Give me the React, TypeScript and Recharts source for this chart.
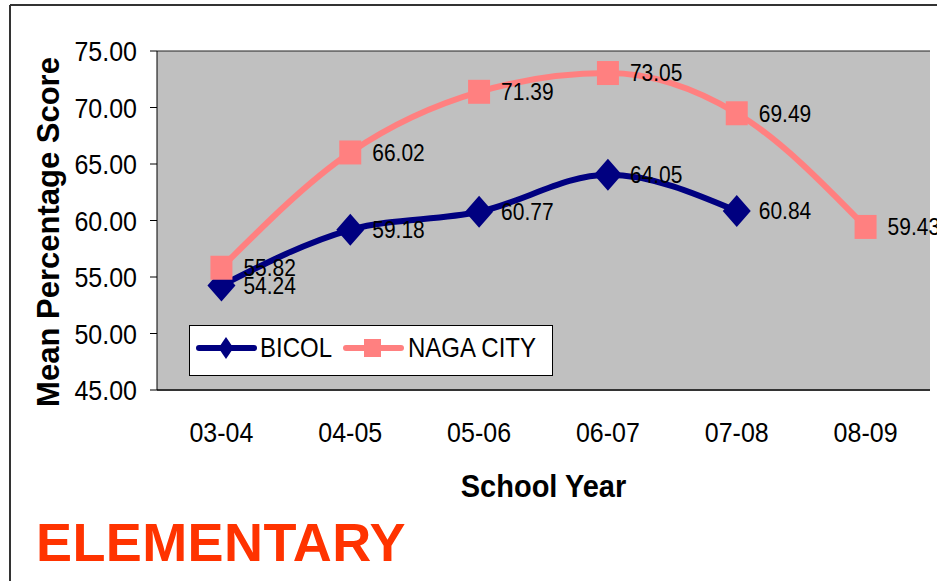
import React from 'react';
import { LineChart, Line, XAxis, YAxis, CartesianGrid, LabelList } from 'recharts';

const categories = ['03-04', '04-05', '05-06', '06-07', '07-08', '08-09'];
const bicolValues: (number | null)[] = [54.24, 59.18, 60.77, 64.05, 60.84, null];
const nagaValues: number[] = [55.82, 66.02, 71.39, 73.05, 69.49, 59.43];
const yTicks = [45, 50, 55, 60, 65, 70, 75];
const boundaryTicks = [0, 1, 2, 3, 4, 5, 6];

const data = categories.map((c, i) => ({ year: c, idx: i + 0.5, bicol: bicolValues[i], naga: nagaValues[i] }));

const FONT = '"Liberation Sans", Arial, sans-serif';
const NAVY = '#000080';
const PINK = '#FF8080';

const stretch = (y: number, s: number) => `translate(0 ${y}) scale(1 ${s}) translate(0 ${-y})`;

const YTick = (props: any) => {
  const { x, y, payload } = props;
  return (
    <text x={x} y={y} dy="0.36em" textAnchor="end" fontSize={25} fontFamily={FONT} fill="#000" transform={stretch(y, 1.12)}>
      {Number(payload.value).toFixed(2)}
    </text>
  );
};

const XTick = (props: any) => {
  const { x, y, payload } = props;
  return (
    <text x={x} y={y} dy="0.36em" textAnchor="middle" fontSize={25} fontFamily={FONT} fill="#000" transform={stretch(y, 1.12)}>
      {payload.value}
    </text>
  );
};

const EmptyTick = () => <g />;

const Diamond = (props: any) => {
  const { cx, cy, index } = props;
  if (cx == null || cy == null || props.value == null) return <g key={`d${index}`} />;
  return <path key={`d${index}`} d={`M${cx},${cy - 16} L${cx + 14},${cy} L${cx},${cy + 16} L${cx - 14},${cy} Z`} fill={NAVY} />;
};

const Square = (props: any) => {
  const { cx, cy, index } = props;
  if (cx == null || cy == null) return <g key={`s${index}`} />;
  return <rect key={`s${index}`} x={cx - 11} y={cy - 12} width={22} height={24} fill={PINK} />;
};

const ValueLabel = (props: any) => {
  const { x, y, value } = props;
  if (value == null || x == null || y == null) return null;
  return (
    <text x={x + 22} y={y} dy="0.36em" textAnchor="start" fontSize={21} fontFamily={FONT} fill="#000" transform={stretch(y, 1.12)}>
      {Number(value).toFixed(2)}
    </text>
  );
};

export default function App() {
  return (
    <div style={{ position: 'absolute', left: 0, top: 0, width: 937, height: 581, background: '#fff', overflow: 'hidden' }}>
      <LineChart width={937} height={581} data={data} margin={{ top: 51, right: 7, left: 0, bottom: 0 }}>
        <CartesianGrid vertical={false} stroke="#222" fill="#C0C0C0" fillOpacity={1} />
        <XAxis
          xAxisId="b"
          dataKey="idx"
          type="number"
          domain={[0, 6]}
          ticks={boundaryTicks}
          height={0}
          axisLine={false}
          tickLine={{ stroke: '#333', strokeWidth: 1 }}
          tickSize={8}
          tick={EmptyTick}
          interval={0}
        />
        <XAxis
          xAxisId="cat"
          dataKey="year"
          scale="band"
          height={191}
          axisLine={{ stroke: '#333', strokeWidth: 2 }}
          tickLine={false}
          tickSize={0}
          tickMargin={42}
          tick={XTick}
          interval={0}
        />
        <XAxis xAxisId="top" dataKey="year" orientation="top" height={0} axisLine={{ stroke: '#808080', strokeWidth: 2 }} tickLine={false} tick={false} />
        <YAxis
          yAxisId="y"
          domain={[45, 75]}
          ticks={yTicks}
          width={157}
          axisLine={{ stroke: '#000', strokeWidth: 1 }}
          tickLine={{ stroke: '#000' }}
          tickSize={7}
          tickMargin={13}
          tick={YTick}
          interval={0}
        />
        <YAxis yAxisId="r" orientation="right" width={0} axisLine={{ stroke: '#808080', strokeWidth: 2 }} tickLine={false} tick={false} />
        <Line
          xAxisId="cat"
          yAxisId="y"
          type="monotone"
          dataKey="bicol"
          stroke={NAVY}
          strokeWidth={6}
          dot={Diamond}
          activeDot={false}
          connectNulls={false}
          isAnimationActive={false}
        >
          <LabelList dataKey="bicol" content={ValueLabel} />
        </Line>
        <Line
          xAxisId="cat"
          yAxisId="y"
          type="monotone"
          dataKey="naga"
          stroke={PINK}
          strokeWidth={6}
          dot={Square}
          activeDot={false}
          isAnimationActive={false}
        >
          <LabelList dataKey="naga" content={ValueLabel} />
        </Line>
      </LineChart>
      <svg width={937} height={581} style={{ position: 'absolute', left: 0, top: 0, pointerEvents: 'none' }}>
        <line x1={10} y1={5} x2={10} y2={581} stroke="#333" strokeWidth={2} />
        <line x1={10} y1={5} x2={937} y2={5} stroke="#333" strokeWidth={2} />
        <text transform="translate(48 232) rotate(-90)" textAnchor="middle" dy="0.36em" fontSize={31} fontWeight="bold" fontFamily={FONT} fill="#000">
          Mean Percentage Score
        </text>
        <text x={543.5} y={497} textAnchor="middle" fontSize={29} fontWeight="bold" fontFamily={FONT} fill="#000" transform={stretch(497, 1.07)}>
          School Year
        </text>
        <text x={36} y={561} fontSize={54} fontWeight="bold" fontFamily={FONT} fill="#FF3300" letterSpacing={0.4}>
          ELEMENTARY
        </text>
        <g>
          <rect x={189.5} y={325.5} width={363} height={50} fill="#fff" stroke="#000" strokeWidth={1} />
          <line x1={199} y1={348} x2={254} y2={348} stroke={NAVY} strokeWidth={6} strokeLinecap="round" />
          <path d="M226,337 L233.5,348 L226,359 L218.5,348 Z" fill={NAVY} />
          <text x={260} y={357} fontSize={24} fontFamily={FONT} fill="#000" transform={stretch(357, 1.15)}>BICOL</text>
          <line x1={346} y1={348} x2={401} y2={348} stroke={PINK} strokeWidth={6} strokeLinecap="round" />
          <rect x={364} y={339} width={17} height={18} fill={PINK} />
          <text x={408} y={357} fontSize={24} fontFamily={FONT} fill="#000" transform={stretch(357, 1.15)}>NAGA CITY</text>
        </g>
      </svg>
    </div>
  );
}
